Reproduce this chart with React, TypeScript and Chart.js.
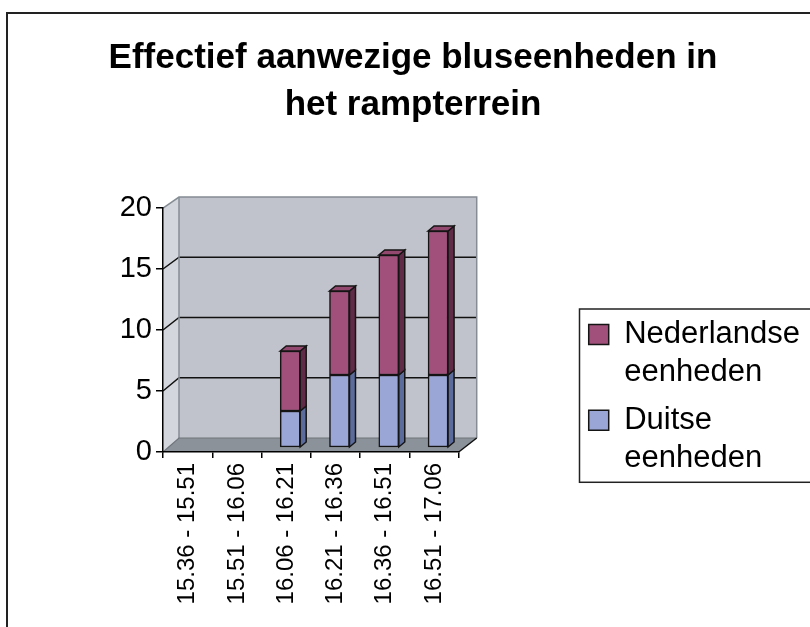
import React, { useEffect, useRef } from 'react';
import { Chart, registerables } from 'chart.js';

Chart.register(...registerables);

// ---- data ----
const titleLines = ['Effectief aanwezige bluseenheden in', 'het rampterrein'];
const categories = [
  '15.36 - 15.51',
  '15.51 - 16.06',
  '16.06 - 16.21',
  '16.21 - 16.36',
  '16.36 - 16.51',
  '16.51 - 17.06',
];
const duitseEenheden = [0, 0, 3, 6, 6, 6];
const nederlandseEenheden = [0, 0, 5, 7, 10, 12];
const seriesNames = ['Duitse eenheden', 'Nederlandse eenheden'];
const yMin = 0;
const yMax = 20;
const yStep = 5;

// ---- styles ----
const FONT = "'Liberation Sans', Arial, Helvetica, sans-serif";
const frontColors = ['#9AA6D5', '#A0507A'];
const sideColors = ['#5B6B9B', '#5F2B46'];
const topColors = ['#8A96C8', '#93496F'];
const EDGE = '#151515';

function backPoint(area: any, x: number, y: number): [number, number] {
  const fx = (x - area.left) / (area.right - area.left);
  const fy = (area.bottom - y) / (area.bottom - area.top);
  return [x + 16 + 2 * fx, y - 14 + 3 * fy];
}

function poly(ctx: CanvasRenderingContext2D, pts: number[][], fill?: string, stroke?: string, lw = 1.5) {
  ctx.beginPath();
  ctx.moveTo(pts[0][0], pts[0][1]);
  for (let i = 1; i < pts.length; i++) ctx.lineTo(pts[i][0], pts[i][1]);
  ctx.closePath();
  if (fill) {
    ctx.fillStyle = fill;
    ctx.fill();
  }
  if (stroke) {
    ctx.strokeStyle = stroke;
    ctx.lineWidth = lw;
    ctx.stroke();
  }
}

function line(ctx: CanvasRenderingContext2D, pts: number[][], color: string, lw = 1.5) {
  ctx.beginPath();
  ctx.moveTo(pts[0][0], pts[0][1]);
  for (let i = 1; i < pts.length; i++) ctx.lineTo(pts[i][0], pts[i][1]);
  ctx.strokeStyle = color;
  ctx.lineWidth = lw;
  ctx.stroke();
}

const wallsPlugin = {
  id: 'walls3d',
  beforeDraw(chart: any) {
    const { ctx, chartArea } = chart;
    const { left: L, right: R, top: T, bottom: B } = chartArea;
    const yF = chart.scales.yFront;
    ctx.save();
    // outer frame
    ctx.strokeStyle = '#222';
    ctx.lineWidth = 2;
    ctx.strokeRect(7, 13, 1000, 1000);

    const bl = backPoint(chartArea, L, B);
    const br = backPoint(chartArea, R, B);
    const tl = backPoint(chartArea, L, T);
    const tr = backPoint(chartArea, R, T);

    // back wall
    poly(ctx, [tl, tr, br, bl], '#C0C3CB');
    // side wall
    poly(ctx, [[L, T], tl, bl, [L, B]], '#D3D6DC');
    // floor
    poly(ctx, [[L, B], bl, br, [R, B]], '#8C9299');

    // gridlines on side and back wall
    yF.ticks.forEach((t: any) => {
      if (t.value <= yF.min || t.value >= yF.max) return;
      const yy = yF.getPixelForValue(t.value);
      const a = backPoint(chartArea, L, yy);
      const b = backPoint(chartArea, R, yy);
      line(ctx, [[L, yy], a, b], '#111', 1.5);
    });

    // wall outlines
    line(ctx, [[L, T], tl, tr, br], '#858C94', 1.5);
    line(ctx, [tl, bl], '#858C94', 1.5);
    line(ctx, [[L, B], bl, br], '#6E747B', 1.2);
    line(ctx, [[R, B], br], '#111', 1.5);
    ctx.restore();
  },
  afterDatasetsDraw(chart: any) {
    const { ctx } = chart;
    const dx = 6;
    const dy = 5;
    const sets = chart.data.datasets;
    ctx.save();
    ctx.lineJoin = 'miter';
    sets.forEach((ds: any, di: number) => {
      const meta = chart.getDatasetMeta(di);
      meta.data.forEach((bar: any, idx: number) => {
        const v = ds.data[idx].y;
        if (!v) return;
        const p = bar.getProps(['x', 'y', 'base', 'width'], true);
        const l = p.x - p.width / 2;
        const r = p.x + p.width / 2;
        const top = Math.min(p.y, p.base);
        const bot = Math.max(p.y, p.base);
        poly(ctx, [[r, top], [r + dx, top - dy], [r + dx, bot - dy], [r, bot]], sideColors[di], EDGE, 1.5);
        const above = sets.slice(di + 1).some((o: any) => o.data[idx].y > 0);
        if (!above) {
          poly(ctx, [[l, top], [l + dx, top - dy], [r + dx, top - dy], [r, top]], topColors[di], EDGE, 1.5);
        }
      });
    });
    ctx.restore();
  },
};

const legendFramePlugin = {
  id: 'legendFrame',
  afterDraw(chart: any) {
    const lg = chart.legend;
    if (!lg || !lg.legendHitBoxes || !lg.legendHitBoxes.length) return;
    const hb = lg.legendHitBoxes;
    const first = hb[0];
    const last = hb[hb.length - 1];
    const y = first.top - 10;
    const h = last.top + last.height + 2 - y;
    const { ctx } = chart;
    ctx.save();
    ctx.strokeStyle = '#222';
    ctx.lineWidth = 1.5;
    ctx.strokeRect(Math.round(lg.left) + 0.5, y, 400, h);
    ctx.restore();
  },
};

export default function App() {
  const canvasRef = useRef<HTMLCanvasElement | null>(null);

  useEffect(() => {
    const canvas = canvasRef.current;
    if (!canvas) return;
    Chart.defaults.font.family = FONT;
    Chart.defaults.color = '#000';

    const mk = (arr: number[]) => arr.map((v, i) => ({ x: i, y: v }));

    const chart = new Chart(canvas, {
      type: 'bar',
      data: {
        labels: categories,
        datasets: [
          {
            label: seriesNames[0],
            data: mk(duitseEenheden) as any,
            backgroundColor: frontColors[0],
            borderColor: EDGE,
            borderWidth: 1.5,
            borderSkipped: false,
            barThickness: 20,
            xAxisID: 'xb',
            yAxisID: 'yb',
          },
          {
            label: seriesNames[1],
            data: mk(nederlandseEenheden) as any,
            backgroundColor: frontColors[1],
            borderColor: EDGE,
            borderWidth: 1.5,
            borderSkipped: false,
            barThickness: 20,
            xAxisID: 'xb',
            yAxisID: 'yb',
          },
        ],
      },
      options: {
        responsive: false,
        maintainAspectRatio: false,
        animation: false,
        devicePixelRatio: 1,
        layout: { padding: { left: 16, top: 0, right: 0, bottom: 0 } },
        plugins: {
          tooltip: { enabled: false },
          title: {
            display: true,
            text: titleLines,
            color: '#000',
            font: { size: 35, weight: 'bold', lineHeight: 1.343, family: FONT },
            padding: { top: 34.4, bottom: 79.6 },
          },
          legend: {
            display: true,
            position: 'right',
            align: 'start',
            fullSize: true,
            reverse: true,
            maxWidth: 260,
            title: { display: true, text: '', font: { size: 10, lineHeight: 1.2 }, padding: { top: 297, bottom: 0 } },
            labels: {
              boxWidth: 20,
              boxHeight: 20,
              padding: 10,
              color: '#000',
              font: { size: 31, lineHeight: 1.22, family: FONT },
              generateLabels: (c: any) => {
                const items = (Chart.defaults.plugins.legend.labels as any).generateLabels(c);
                return items.map((it: any) => ({ ...it, text: String(it.text).split(' ') }));
              },
            },
          },
        },
        scales: {
          x: {
            type: 'category',
            position: 'bottom',
            offset: true,
            grid: { offset: true, drawOnChartArea: false, tickLength: 6, color: '#000', lineWidth: 1.5 },
            border: { display: true, color: '#000', width: 1.5 },
            ticks: { autoSkip: false, minRotation: 90, maxRotation: 90, padding: 5, color: '#000', font: { size: 24 } },
            afterFit: (s: any) => {
              s.height = 175;
            },
          },
          xb: {
            type: 'linear',
            display: false,
            offset: false,
            stacked: true,
            min: -0.581,
            max: 5.419,
          },
          yFront: {
            type: 'linear',
            position: 'left',
            min: yMin,
            max: yMax,
            ticks: { stepSize: yStep, padding: 4, color: '#000', font: { size: 29 } },
            grid: { drawOnChartArea: false, tickLength: 7, color: '#000', lineWidth: 1.5 },
            border: { display: true, color: '#000', width: 1.5 },
            afterFit: (s: any) => {
              s.width = 147;
            },
          },
          yb: {
            type: 'linear',
            position: 'right',
            stacked: true,
            min: -0.4167,
            max: 19.917,
            ticks: { display: false },
            grid: { display: false },
            border: { display: false },
            afterFit: (s: any) => {
              s.width = 120;
            },
          },
        },
      } as any,
      plugins: [wallsPlugin, legendFramePlugin],
    });

    return () => {
      chart.destroy();
    };
  }, []);

  return (
    <div style={{ position: 'absolute', left: 0, top: 0, width: 810, height: 627, background: '#fff' }}>
      <canvas ref={canvasRef} width={810} height={627} style={{ display: 'block' }} />
    </div>
  );
}
